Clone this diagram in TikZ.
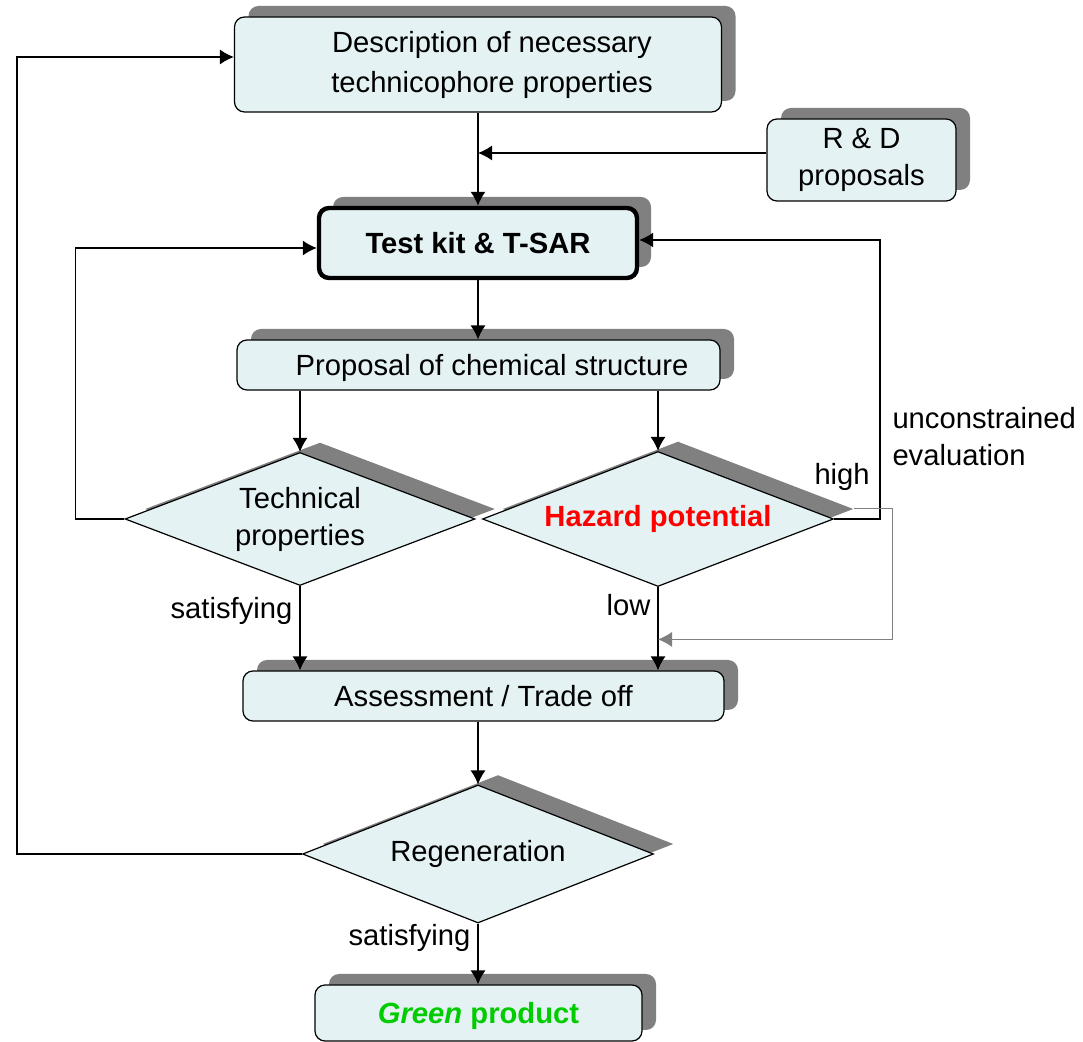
\documentclass[tikz,border=0pt]{standalone}
\usepackage{fontspec}
\setmainfont{Liberation Sans}
\usetikzlibrary{arrows.meta,shapes.geometric,shadows,calc,positioning}

\definecolor{boxfill}{RGB}{228,242,244}
\definecolor{shadowgray}{RGB}{128,128,128}
\definecolor{hazred}{RGB}{255,0,0}
\definecolor{greentext}{RGB}{0,204,0}

\begin{document}
\begin{tikzpicture}[x=0.5pt, y=-0.5pt, >={Latex[length=7pt,width=7.5pt]},
  font=\fontsize{14.6}{18.5}\selectfont,
  wire/.style={line width=0.65pt},
  greywire/.style={line width=0.5pt, draw=shadowgray},
  box/.style={draw, rounded corners=5pt, fill=boxfill, line width=0.6pt,
    align=center, inner sep=0pt,
    drop shadow={shadow xshift=7pt, shadow yshift=5.5pt, fill=shadowgray, opacity=1}},
  decision/.style={draw, diamond, aspect=2.6, fill=boxfill, line width=0.6pt,
    align=center, inner sep=0pt,
    drop shadow={shadow xshift=10pt, shadow yshift=5pt, fill=shadowgray, opacity=1}},
  lbl/.style={inner sep=3.5pt}]
\useasboundingbox (0,0) rectangle (1083,1042);

% boxes
\node (desc) [box, font=\fontsize{14.6}{20}\selectfont, minimum width=243.5pt, minimum height=47.5pt] at (478,64.5)
  {\hspace*{14pt}Description of necessary\\\hspace*{14pt}technicophore properties};
\node (rnd) [box, minimum width=94.5pt, minimum height=41pt] at (861.5,160) {R \& D\\proposals};
\node (tsar) [box, line width=2.2pt, minimum width=159pt, minimum height=35pt] at (478,243) {\textbf{Test kit \& T-SAR}};
\node (prop) [box, text depth=0pt, minimum width=241.5pt, minimum height=25pt] at (478.5,365) {\hspace*{13.5pt}Proposal of chemical structure};
\node (tech) [decision, minimum width=175pt, minimum height=66.5pt] at (300,519) {Technical\\properties};
\node (haz) [decision, minimum width=175.5pt, minimum height=67.5pt] at (658,519) {\textcolor{hazred}{\textbf{Hazard potential}}};
\node (assess) [box, text depth=0pt, minimum width=240.5pt, minimum height=25pt] at (483.5,696) {Assessment / Trade off};
\node (regen) [decision, minimum width=175.5pt, minimum height=69pt] at (478,854) {Regeneration};
\node (green) [box, text depth=0pt, minimum width=163.5pt, minimum height=28pt] at (478.5,1013) {\textcolor{greentext}{\textbf{\textit{Green} product}}};

% main flow
\draw[wire,->] (desc) -- (tsar);
\draw[wire,->] ($(rnd.west)+(0,-7)$) -- ($(rnd.west -| desc.south)+(0,-7)$);
\draw[wire,->] (tsar.south) -- (tsar.south |- prop.north);
\draw[wire,->] (prop.south -| tech.north) -- (tech.north);
\draw[wire,->] (prop.south -| haz.north) -- (haz.north);
\draw[wire,->] (tech.south) -- node[lbl,left,pos=0.3] {satisfying} (tech.south |- assess.north);
\draw[wire,->] (haz.south) -- node[lbl,left,pos=0.21] {low} (haz.south |- assess.north);
\draw[wire,->] (assess.south -| regen.north) -- (regen.north);
\draw[wire,->] (regen.south) -- node[lbl,left,pos=0.24] {satisfying} (regen.south |- green.north);

% loops back
\draw[wire,->] (haz.east) -- ++(46,0) |- ($(tsar.east)+(0,-3)$);
\node[lbl] (high) at ($(haz.east)+(8,-42)$) {high};
\node[lbl, anchor=west, align=left] (unc) at ($(haz.east)+(51,-82)$) {unconstrained\\evaluation};
\draw[greywire,->] ($(haz.east)+(20,-10)$) -- ++(38,0) |- ($(haz.south |- assess.north)+(0,-31)$);
\draw[wire,->] (tech.west) -- ++(-49,0) |- ($(tsar.west)+(0,5)$);
\draw[wire,->] (regen.west) -- ++(-285,0) |- ($(desc.west)+(0,-7.5)$);
\end{tikzpicture}
\end{document}
